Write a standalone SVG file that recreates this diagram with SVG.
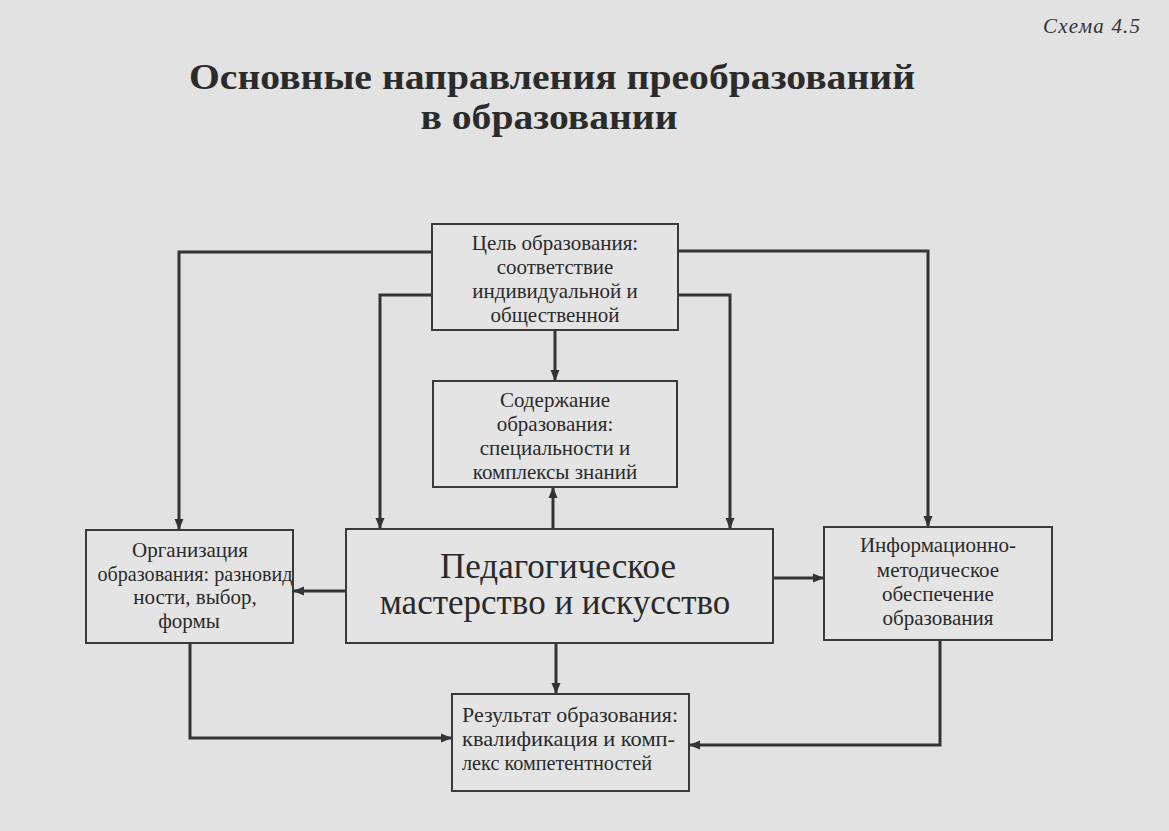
<svg xmlns="http://www.w3.org/2000/svg" width="1169" height="831" viewBox="0 0 1169 831">
<style>
.bg{fill:#e2e2e2}
.box{fill:#e4e4e4;stroke:#3a3a3a;stroke-width:2}
.t{font-family:"Liberation Serif","Times New Roman",serif;font-size:21px;fill:#2a2a2a;text-anchor:middle}
.tl{font-family:"Liberation Serif","Times New Roman",serif;font-size:21px;fill:#2a2a2a}
.big{font-family:"Liberation Serif","Times New Roman",serif;font-size:35px;fill:#2a2a2a;text-anchor:middle}
.title{font-family:"Liberation Serif","Times New Roman",serif;font-size:35px;font-weight:bold;fill:#2b2b2b;text-anchor:middle}
.sch{font-family:"Liberation Serif","Times New Roman",serif;font-size:21px;font-style:italic;fill:#333}
.c{fill:none;stroke:#333;stroke-width:3;marker-end:url(#ah)}
</style>
<defs>
<marker id="ah" markerUnits="userSpaceOnUse" markerWidth="12" markerHeight="10" refX="11" refY="5" orient="auto">
<path d="M0,0.5 L11,5 L0,9.5 z" fill="#333"/>
</marker>
</defs>
<rect class="bg" x="0" y="0" width="1169" height="831"/>
<text class="sch" x="1043" y="33" textLength="97" lengthAdjust="spacing">Схема 4.5</text>
<g id="title">
<text class="title" x="552" y="89" textLength="726" lengthAdjust="spacingAndGlyphs">Основные направления преобразований</text>
<text class="title" x="549" y="129" textLength="257" lengthAdjust="spacingAndGlyphs">в образовании</text>
</g>
<g id="connectors">
<path class="c" d="M555,330 V381"/>
<path class="c" d="M432,252 H179 V530"/>
<path class="c" d="M432,295 H380 V529"/>
<path class="c" d="M678,251 H928 V527"/>
<path class="c" d="M678,295 H730 V529"/>
<path class="c" d="M553,529 V487"/>
<path class="c" d="M346,591 H293"/>
<path class="c" d="M773,578 H824"/>
<path class="c" d="M556,643 V694"/>
<path class="c" d="M190,643 V738 H452"/>
<path class="c" d="M940,640 V745 H689"/>
</g>
<g id="goal">
<rect class="box" x="432" y="224" width="246" height="106"/>
<text class="t" x="555" y="250">Цель образования:</text>
<text class="t" x="555" y="274">соответствие</text>
<text class="t" x="555" y="298">индивидуальной и</text>
<text class="t" x="555" y="322">общественной</text>
</g>
<g id="content">
<rect class="box" x="433" y="381" width="244" height="106"/>
<text class="t" x="555" y="407">Содержание</text>
<text class="t" x="555" y="431">образования:</text>
<text class="t" x="555" y="455">специальности и</text>
<text class="t" x="555" y="479">комплексы знаний</text>
</g>
<g id="organization">
<rect class="box" x="86" y="530" width="207" height="113"/>
<text class="t" x="190" y="557">Организация</text>
<text class="t" x="195" y="581" textLength="195" lengthAdjust="spacingAndGlyphs">образования: разновид</text>
<text class="t" x="195" y="604">ности, выбор,</text>
<text class="t" x="189" y="628">формы</text>
</g>
<g id="mastery">
<rect class="box" x="346" y="529" width="427" height="114"/>
<text class="big" x="558" y="578">Педагогическое</text>
<text class="big" x="555" y="614">мастерство и искусство</text>
</g>
<g id="info">
<rect class="box" x="824" y="527" width="228" height="113"/>
<text class="t" x="938" y="552">Информационно-</text>
<text class="t" x="938" y="577">методическое</text>
<text class="t" x="938" y="601">обеспечение</text>
<text class="t" x="938" y="625">образования</text>
</g>
<g id="result">
<rect class="box" x="452" y="694" width="237" height="97"/>
<text class="tl" x="462" y="722" textLength="216" lengthAdjust="spacingAndGlyphs">Результат образования:</text>
<text class="tl" x="462" y="746" textLength="213" lengthAdjust="spacingAndGlyphs">квалификация и комп-</text>
<text class="tl" x="462" y="770" textLength="190" lengthAdjust="spacingAndGlyphs">лекс компетентностей</text>
</g>
</svg>
